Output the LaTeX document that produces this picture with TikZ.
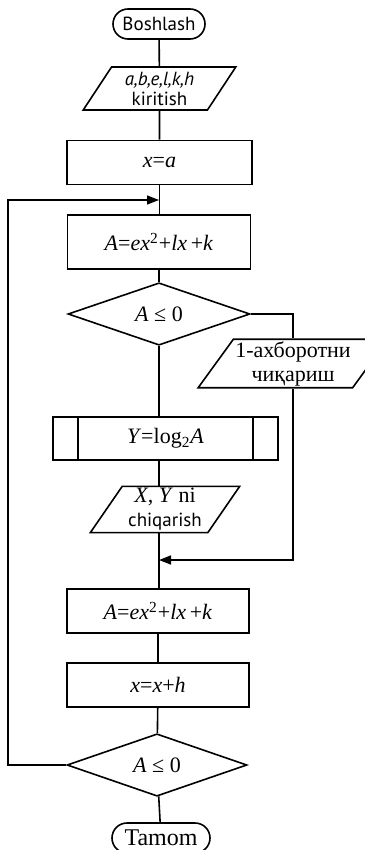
\documentclass[tikz,border=0pt]{standalone}
\usepackage{fontspec}
\setmainfont{Liberation Serif}
\setsansfont{PT Sans}
\usepackage{tikz}
\usetikzlibrary{shapes.geometric, arrows.meta}

\begin{document}
\begin{tikzpicture}[x=0.5pt, y=-0.5pt, line width=0.8pt,
    font=\fontsize{11}{12}\selectfont,
    every node/.style={align=center, inner sep=1pt},
    terminal/.style={draw, rounded corners=7.5pt, minimum width=46pt, minimum height=15pt},
    block/.style={draw, minimum width=91pt, minimum height=22pt},
    cond/.style={draw, diamond, minimum width=91pt, minimum height=29pt, inner sep=0pt},
    io/.style={draw, trapezium, trapezium left angle=#1, trapezium right angle=180-#1,
        trapezium stretches=true, minimum height=21.5pt},
    io/.default=60,
    arr/.style={-{Triangle[length=6pt, width=4.5pt]}}]
    \useasboundingbox (0,0) rectangle (364,850);

    % Debut et entree
    \node[terminal, font=\sffamily\fontsize{9.5}{10}\selectfont] (start) at (159,24) {Boshlash};
    \node[io=60, minimum width=76.5pt, font=\sffamily\fontsize{9.5}{10}\selectfont] (inp) at (159.5,88.5)
        {\itshape a,b,e,l,k,h\\ kiritish};
    \node[block, minimum width=92.5pt] (xa) at (159.5,162.5) {\textit{x}=\textit{a}};
    \coordinate (loop) at (159,200);
    \coordinate (back) at (8,200);

    % Corps de la boucle
    \node[block, minimum width=91.5pt, minimum height=27pt] (A1) at (159,242)
        {\textit{A}=\textit{ex}\textsuperscript{2}+\textit{lx}\,+\textit{k}};
    \node[cond] (d1) at (159,314) {\textit{A} ≤ 0};
    \node[io=54, minimum width=72pt] (msg) at (293,363.5) {1-ахборотни\\ чиқариш};
    \node[block, minimum width=112.5pt, minimum height=21.5pt] (pp) at (165.5,438.5)
        {\textit{Y}=log\textsubscript{2}\textit{A}};
    \draw ([xshift=13pt]pp.north west) -- ([xshift=13pt]pp.south west);
    \draw ([xshift=-13pt]pp.north east) -- ([xshift=-13pt]pp.south east);
    \node[io=58, minimum width=75pt, minimum height=22.5pt] (out) at (165,509.5)
        {\textit{X}, \textit{Y} ni\\ \textsf{\fontsize{9.5}{10}\selectfont chiqarish}};
    \coordinate (merge) at (159,560);
    \node[block] (A2) at (158,611) {\textit{A}=\textit{ex}\textsuperscript{2}+\textit{lx}\,+\textit{k}};
    \node[block] (xh) at (158,685) {\textit{x}=\textit{x}+\textit{h}};
    \node[cond, minimum width=90pt, minimum height=28.5pt] (d2) at (157,765) {\textit{A} ≤ 0};

    % Fin
    \node[terminal, minimum width=49pt, font=\fontsize{12}{13}\selectfont] (end) at (161,838) {Tamom};

    % Liaisons
    \draw (start) -- (inp);
    \draw (inp) -- (xa);
    \draw (xa.south) -- (xa.south |- A1.north);
    \draw (A1) -- (d1);
    \draw (d1.east) -| (msg.north);
    \draw (d1.south) -- (d1.south |- pp.north);
    \draw (d1.south |- pp.south) -- (d1.south |- out.north);
    \draw (d1.south |- out.south) -- (d1.south |- A2.north);
    \draw[arr] (msg.south) |- (merge);
    \draw (A2.south) -- (A2.south |- xh.north);
    \draw (xh) -- (d2);
    \draw (d2) -- (end);
    \draw[arr] (d2.west) -| (back) -- (loop);
\end{tikzpicture}
\end{document}
